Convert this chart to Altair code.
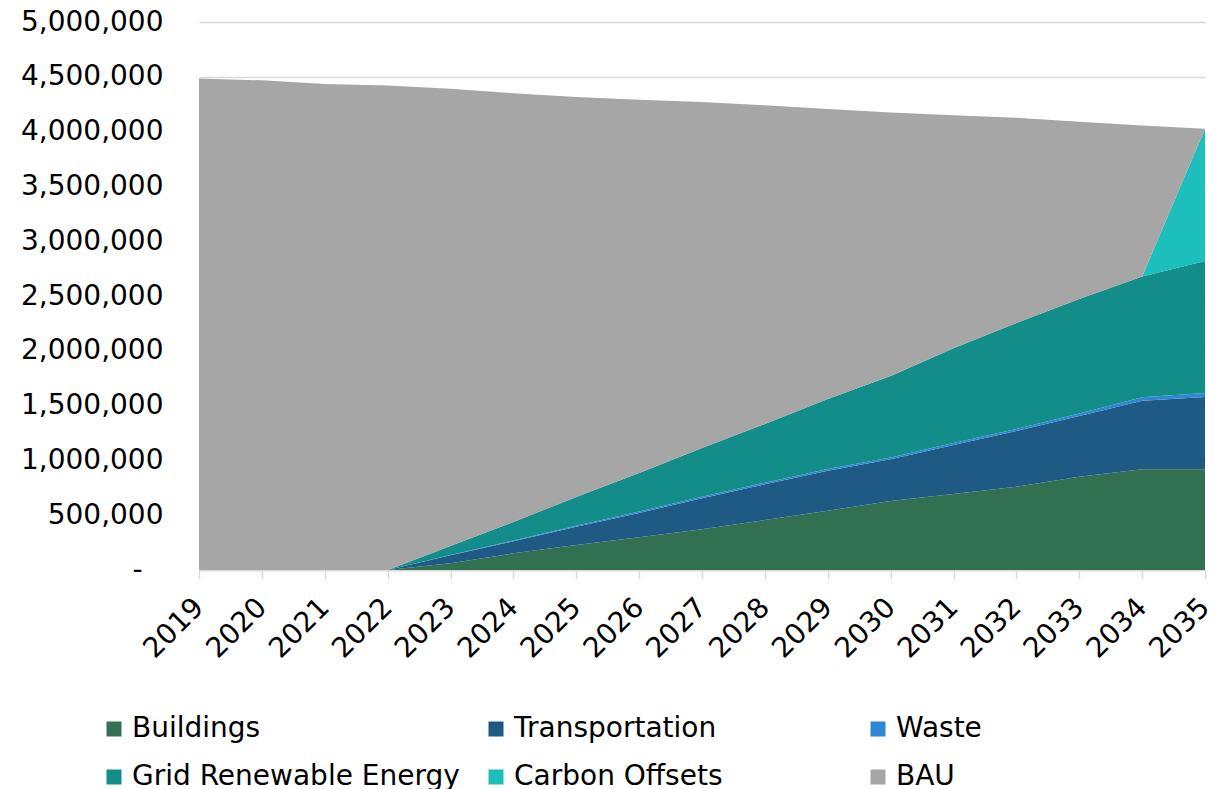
import altair as alt
import pandas as pd

years = list(range(2019, 2036))

# values (tCO2e)
bau_total = [4484000, 4468000, 4435000, 4420000, 4390000, 4350000, 4316000, 4290000,
             4270000, 4240000, 4206000, 4175000, 4150000, 4126000, 4090000, 4055000, 4027000]
buildings = [0, 0, 0, 0, 61000, 152000, 228000, 298000, 371000, 456000, 541000,
             630000, 693000, 760000, 851000, 919000, 919000]
transportation = [0, 0, 0, 0, 73000, 110000, 166000, 223000, 283000, 326000, 365000,
                  380000, 447000, 508000, 554000, 626000, 659000]
waste = [0, 0, 0, 0, 4000, 7000, 10000, 12000, 14000, 15000, 16000,
         17000, 18000, 19000, 22000, 32000, 36000]
grid = [0, 0, 0, 0, 82000, 169000, 262000, 352000, 445000, 535000, 638000,
        743000, 865000, 967000, 1046000, 1102000, 1205000]
offsets = [0, 0, 0, 0, 0, 0, 0, 0, 0, 0, 0, 0, 0, 0, 0, 0, 1208000]

series = ["Buildings", "Transportation", "Waste", "Grid Renewable Energy", "Carbon Offsets", "BAU"]
colors = ["#327052", "#1F5A85", "#2E86D5", "#128D8A", "#1CBFBC", "#A6A6A6"]

rows = []
for i, y in enumerate(years):
    wedge = [buildings[i], transportation[i], waste[i], grid[i], offsets[i]]
    vals = wedge + [bau_total[i] - sum(wedge)]
    for k, (name, v) in enumerate(zip(series, vals)):
        rows.append({"year": y, "series": name, "value": v, "k": k})
df = pd.DataFrame(rows)

FONT = "DejaVu Sans"

chart = alt.Chart(df).mark_area(interpolate="linear").encode(
    x=alt.X("year:Q",
            scale=alt.Scale(domain=[2019, 2035], nice=False, zero=False),
            axis=alt.Axis(values=years, format="d", labelAngle=-45, title=None,
                          labelAlign="right", labelBaseline="middle",
                          labelPadding=24, labelOffset=0,
                          domainColor="#d9d9d9", domainWidth=1.5,
                          tickColor="#d9d9d9", tickWidth=1.5, tickSize=9,
                          grid=False, labelFontSize=28, labelFont=FONT,
                          labelColor="#000000", labelOverlap=False)),
    y=alt.Y("value:Q", stack="zero",
            scale=alt.Scale(domain=[0, 5000000], nice=False),
            axis=alt.Axis(values=[i * 500000 for i in range(11)], title=None,
                          labelExpr="datum.value == 0 ? '-' : format(datum.value, ',')",
                          domain=False, ticks=False, grid=True,
                          gridColor="#d9d9d9", gridWidth=1.5,
                          labelPadding={"condition": {"test": "datum.value == 0", "value": 57},
                                        "value": 36},
                          labelFontSize=28, labelFont=FONT,
                          labelColor="#000000")),
    color=alt.Color("series:N",
                    scale=alt.Scale(domain=series, range=colors),
                    sort=series,
                    legend=alt.Legend(title=None, orient="none", legendX=-99, legendY=693,
                                      direction="horizontal",
                                      columns=3, gridAlign="all", columnPadding=22,
                                      rowPadding=20, symbolType="square", symbolSize=225,
                                      symbolStrokeWidth=0, labelOffset=4,
                                      labelFontSize=28, labelFont=FONT,
                                      labelColor="#000000", labelLimit=500)),
    order=alt.Order("k:Q", sort="ascending"),
).properties(
    width=1006, height=548,
    autosize=alt.AutoSizeParams(type="none"),
    padding={"left": 191, "top": 14, "right": 17, "bottom": 230},
).configure_view(stroke=None)

chart.save("out.html", embed_options={"renderer": "svg", "actions": False})
